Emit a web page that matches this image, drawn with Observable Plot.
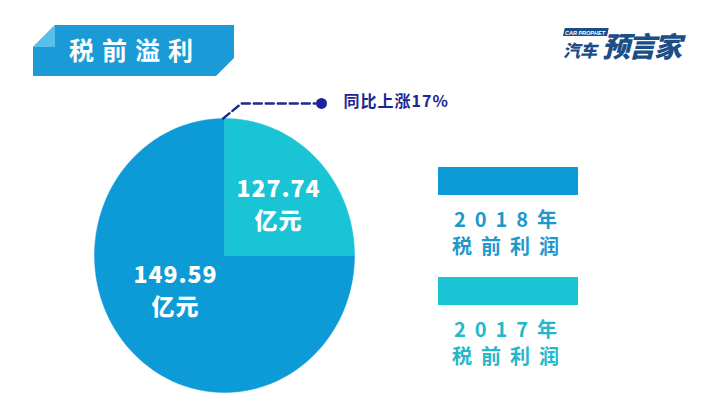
<!DOCTYPE html>
<html>
<head>
<meta charset="utf-8">
<script src="https://cdn.jsdelivr.net/npm/d3@7"></script>
<script src="https://cdn.jsdelivr.net/npm/@observablehq/plot@0.6"></script>
<style>
  html, body { margin: 0; padding: 0; background: #fff; }
  #wrap { position: relative; width: 717px; height: 407px; overflow: hidden; background: #fff;
          font-family: "Noto Sans CJK SC", "Noto Sans", sans-serif; }
  #chart { position: absolute; left: 0; top: 0; }
  #chart svg text { letter-spacing: 1px; }
  .banner { position: absolute; left: 33px; top: 25px; }
  .logo { position: absolute; left: 560px; top: 22px; width: 140px; height: 44px; }
  .leg { position: absolute; left: 438px; width: 140px; }
  .sw { height: 28px; }
  .lt { font-weight: 700; font-size: 20px; letter-spacing: 9px; line-height: 27px; text-align: center; margin-left: 4px; }
</style>
</head>
<body>
<div id="wrap">
  <div id="chart"></div>
</div>
<script>
// ---- data ----
const years = ["2017年", "2018年"];
const profits = [127.74, 149.59];          // 亿元
const visualShare = [0.25, 0.75];          // share of the disk drawn for each year
const sliceColors = ["#19c4d5", "#0c9bd7"];
const legendText = ["#1e97cc", "#23b7c9"]; // 2018, 2017 label colours
const unit = "亿元";
const subject = "税前利润";
const growthLabel = "同比上涨17%";
const title = "税前溢利";

// ---- layout via d3.pie ----
const table = years.map((y, i) => ({year: y, value: profits[i], share: visualShare[i], color: sliceColors[i]}));
const arcs = d3.pie().sort(null).value(d => d.share)(table);

function wedge(a) {
  const pts = [{x: 0, y: 0}];
  const n = 90;
  for (let k = 0; k <= n; k++) {
    const t = a.startAngle + (a.endAngle - a.startAngle) * k / n;
    pts.push({x: Math.sin(t), y: Math.cos(t)});
  }
  pts.push({x: 0, y: 0});
  return pts;
}

// label anchors (polar, in units of radius)
const labelPolar = [{ang: 49 * Math.PI / 180, r: 0.55}, {ang: 235 * Math.PI / 180, r: 0.46}];
const labels = [];
arcs.forEach((a, i) => {
  const p = labelPolar[i];
  const cx = p.r * Math.sin(p.ang), cy = p.r * Math.cos(p.ang);
  labels.push({x: cx, y: cy + 0.117, t: a.data.value.toFixed(2)});
  labels.push({x: cx, y: cy - 0.117, t: unit});
});

// callout leader from top of the disk
const leader = [{x: -0.01, y: 1}, {x: 0.13, y: 1.11}, {x: 0.7, y: 1.11}];

const W = 717, H = 407, cxp = 224, cyp = 255, rx = 130, ry = 137;
const plot = Plot.plot({
  width: W, height: H,
  margin: 0,
  x: {domain: [-cxp / rx, (W - cxp) / rx], axis: null},
  y: {domain: [(cyp - H) / ry, cyp / ry], axis: null},
  style: {fontFamily: '"Noto Sans CJK SC", "Noto Sans", sans-serif', background: "transparent"},
  marks: [
    ...arcs.slice().reverse().map(a => Plot.line(wedge(a), {x: "x", y: "y", fill: a.data.color, stroke: a.data.color, strokeWidth: 0.5})),
    Plot.text(labels, {x: "x", y: "y", text: "t", fill: "#ffffff", fontSize: 23, fontWeight: 800}),
    Plot.line(leader, {x: "x", y: "y", stroke: "#1f2a8f", strokeWidth: 2.5, strokeDasharray: "8,4"}),
    Plot.dot([leader[leader.length - 1]], {x: "x", y: "y", dx: 6, r: 5.5, fill: "#1a22a0"}),
    Plot.text([leader[leader.length - 1]], {x: "x", y: "y", dx: 28, dy: -2, text: () => growthLabel, textAnchor: "start",
      fill: "#1c2592", fontSize: 16, fontWeight: 700})
  ]
});
document.getElementById("chart").appendChild(plot);

const wrap = document.getElementById("wrap");

// banner
const banner = document.createElement("div");
banner.className = "banner";
banner.innerHTML = `<svg width="202" height="52" viewBox="0 0 202 52">
  <polygon points="22,0 201,0 201,33 183,51 0,51 0,22" fill="#1a9bd7"/>
  <polygon points="22,0 0,22 22,22" fill="#57c0ea"/>
  <text x="102" y="35" text-anchor="middle" fill="#fff" font-size="25" font-weight="700" letter-spacing="8"
    font-family="Noto Sans CJK SC">${title}</text></svg>`;
wrap.appendChild(banner);

// logo
const logo = document.createElement("div");
logo.className = "logo";
logo.innerHTML = `<svg width="140" height="44" viewBox="0 0 140 44">
  <rect x="6" y="6" width="44" height="8" fill="#1b4d86" transform="skewX(-12)"/>
  <text x="5" y="12.5" fill="#fff" font-size="5.5" font-weight="700" font-style="italic" font-family="Liberation Sans"
    textLength="40" lengthAdjust="spacingAndGlyphs">CAR PROPHET</text>
  <text x="3" y="35" fill="#1b4d86" font-size="17" font-weight="900" font-style="italic" font-family="Noto Sans CJK SC">汽车</text>
  <text x="42" y="35" fill="#1b4d86" font-size="28" font-weight="900" font-style="italic" font-family="Noto Sans CJK SC" letter-spacing="-2">预言家</text>
  </svg>`;
wrap.appendChild(logo);

// legend (2018 first, then 2017)
[1, 0].forEach((i, k) => {
  const d = document.createElement("div");
  d.className = "leg";
  d.style.top = (k === 0 ? 167 : 277) + "px";
  d.innerHTML = `<div class="sw" style="background:${sliceColors[i]}"></div>
    <div class="lt" style="color:${legendText[k]};margin-top:10px">${years[i]}</div>
    <div class="lt" style="color:${legendText[k]}">${subject}</div>`;
  wrap.appendChild(d);
});
</script>
</body>
</html>
